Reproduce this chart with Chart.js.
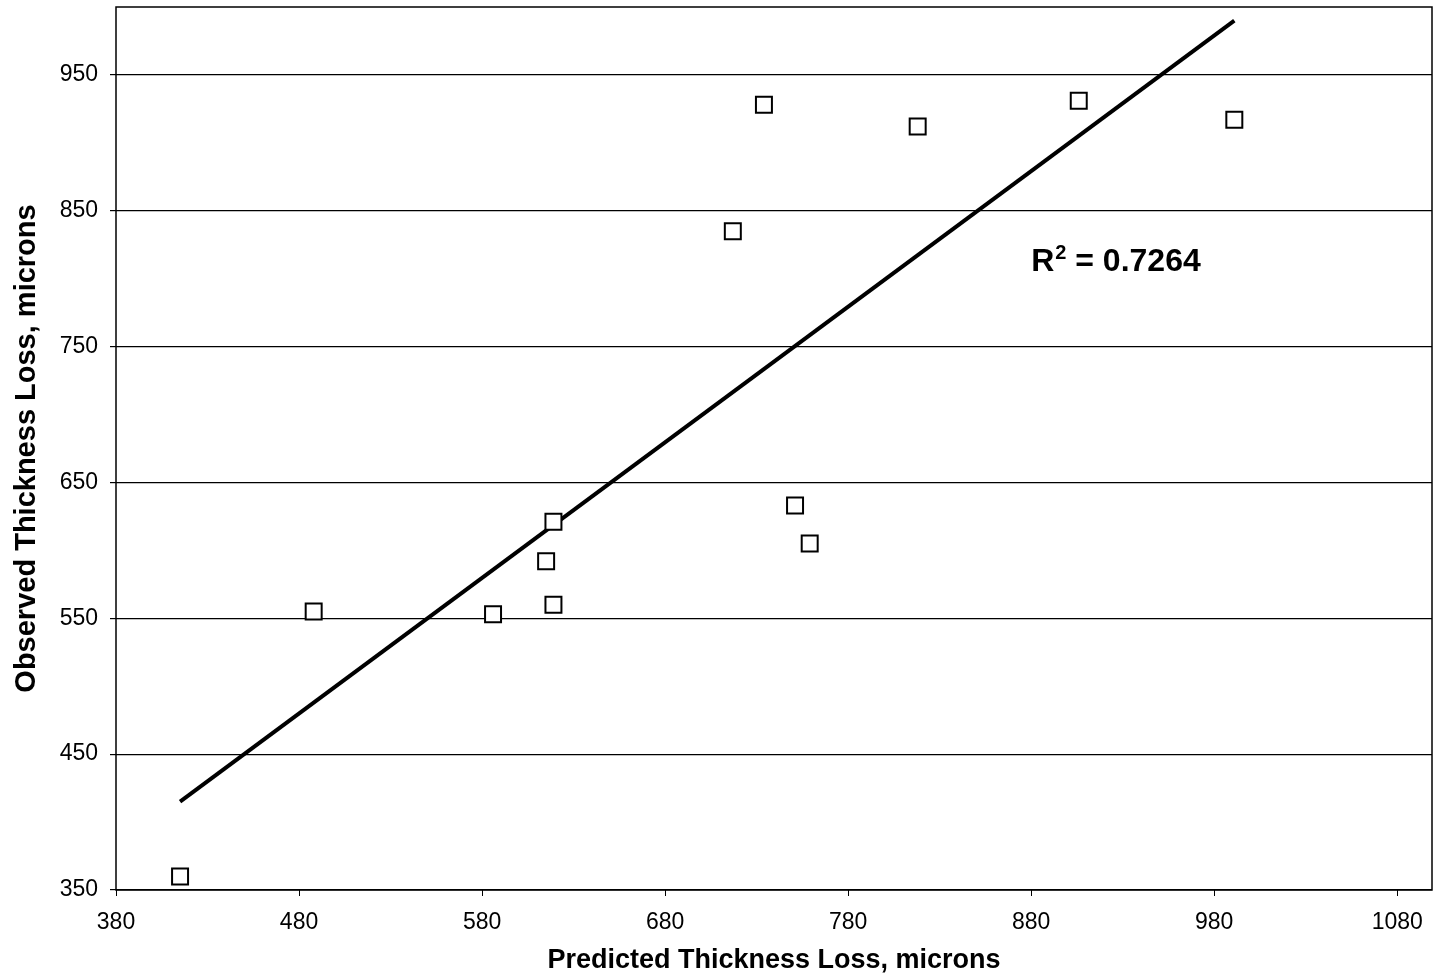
<!DOCTYPE html>
<html>
<head>
<meta charset="utf-8">
<script src="https://cdn.jsdelivr.net/npm/chart.js@4.4.0/dist/chart.umd.min.js"></script>
<style>
  html, body { margin: 0; padding: 0; background: #fff; }
  #wrap { width: 1441px; height: 980px; }
</style>
</head>
<body>
<div id="wrap"><canvas id="thicknessChart" width="1441" height="980"></canvas></div>
<script>
// --- DADOS ---
const predicted = [415, 488, 586, 615, 619, 619, 717, 734, 751, 759, 818, 906, 991];
const observed = [360, 555, 553, 592, 621, 560, 835, 928, 633, 605, 912, 931, 917];
// linha de tendência (extremos)
const trendX = [415, 991];
const trendY = [415, 990];
const rSquared = '0.7264';
const yTicks = [350, 450, 550, 650, 750, 850, 950];
const xTicks = [380, 480, 580, 680, 780, 880, 980, 1080];

const FONT = '"Liberation Sans", Arial, sans-serif';

// borda da área do gráfico + texto do R²
const framePlugin = {
  id: 'frame',
  afterDraw(chart) {
    const { ctx, chartArea: a, scales } = chart;
    ctx.save();
    ctx.strokeStyle = '#000';
    ctx.lineWidth = 1.5;
    ctx.strokeRect(a.left, a.top, a.right - a.left, a.bottom - a.top);

    const x = scales.x.getPixelForValue(880);
    const y = scales.y.getPixelForValue(806);
    ctx.fillStyle = '#000';
    ctx.textBaseline = 'alphabetic';
    ctx.textAlign = 'left';
    ctx.font = 'bold 32px ' + FONT;
    ctx.fillText('R', x, y);
    let w = ctx.measureText('R').width;
    ctx.font = 'bold 20px ' + FONT;
    ctx.fillText('2', x + w + 1, y - 12);
    w += ctx.measureText('2').width + 1;
    ctx.font = 'bold 32px ' + FONT;
    ctx.fillText(' = ' + rSquared, x + w, y);
    ctx.restore();
  },
};

const ctx = document.getElementById('thicknessChart').getContext('2d');
new Chart(ctx, {
  type: 'scatter',
  data: {
    datasets: [
      {
        label: 'Observado',
        data: predicted.map((p, i) => ({ x: p, y: observed[i] })),
        pointStyle: 'rect',
        pointRadius: 11.3,
        pointHoverRadius: 11.3,
        borderColor: '#000',
        backgroundColor: '#fff',
        borderWidth: 2,
        order: 1,
      },
      {
        label: 'Tendência',
        type: 'line',
        data: trendX.map((p, i) => ({ x: p, y: trendY[i] })),
        borderColor: '#000',
        borderWidth: 4,
        pointRadius: 0,
        fill: false,
        order: 2,
      },
    ],
  },
  options: {
    responsive: false,
    animation: false,
    layout: { autoPadding: false, padding: { top: 7, right: 9, left: 0, bottom: 0 } },
    plugins: {
      legend: { display: false },
      tooltip: { enabled: false },
    },
    scales: {
      x: {
        type: 'linear',
        min: 380,
        max: 1099,
        afterBuildTicks: (scale) => { scale.ticks = xTicks.map((v) => ({ value: v })); },
        afterFit: (scale) => {
          scale.height = 90;
          scale.paddingLeft = 0;
          scale.paddingRight = 0;
        },
        grid: { drawOnChartArea: false, drawTicks: true, tickLength: 6, color: '#000' },
        border: { display: false },
        ticks: {
          color: '#000',
          font: { family: FONT, size: 23 },
          padding: 13,
          maxRotation: 0,
          callback: (v) => String(v),
        },
        title: {
          display: true,
          text: 'Predicted Thickness Loss, microns',
          color: '#000',
          font: { family: FONT, size: 27, weight: 'bold' },
          padding: { top: 0, bottom: 3 },
        },
      },
      y: {
        type: 'linear',
        min: 350,
        max: 1000,
        afterBuildTicks: (scale) => { scale.ticks = yTicks.map((v) => ({ value: v })); },
        afterFit: (scale) => {
          scale.width = 116;
          scale.paddingTop = 0;
          scale.paddingBottom = 0;
        },
        grid: { color: '#000', lineWidth: 1.2, drawTicks: true, tickLength: 6 },
        border: { display: false },
        ticks: {
          color: '#000',
          font: { family: FONT, size: 23 },
          padding: 12,
          callback: (v) => String(v),
        },
        title: {
          display: true,
          text: 'Observed Thickness Loss, microns',
          color: '#000',
          font: { family: FONT, size: 29, weight: 'bold' },
          padding: { top: 10, bottom: 0 },
        },
      },
    },
  },
  plugins: [framePlugin],
});
</script>
</body>
</html>
